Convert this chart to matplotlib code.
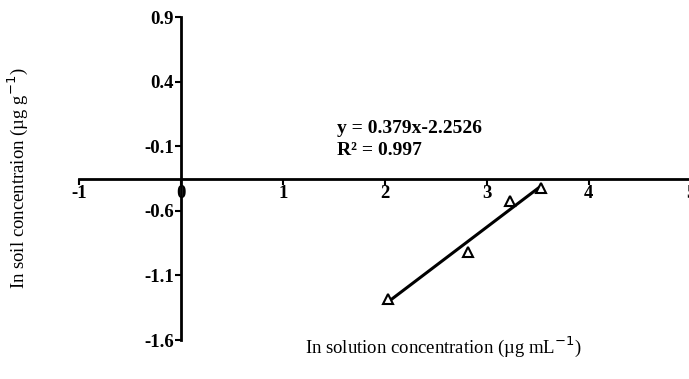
import matplotlib
matplotlib.use("Agg")
import matplotlib.pyplot as plt
import numpy as np

# data
ln_solution = [2.03, 2.81, 3.23, 3.53]
ln_soil = [-1.28, -0.92, -0.52, -0.42]
x_ticks = [-1, 0, 1, 2, 3, 4, 5]
y_ticks = [0.9, 0.4, -0.1, -0.6, -1.1, -1.6]

plt.rcParams['font.family'] = ['Liberation Serif', 'DejaVu Serif']

fig = plt.figure(figsize=(6.89, 3.79), dpi=100)
ax = fig.add_axes([0.1147, 0.1029, 0.888, 0.852])

# fitted line between the extreme points
coef = np.polyfit(ln_solution, ln_soil, 1)
xs = np.array([min(ln_solution), max(ln_solution)])
ax.plot(xs, np.polyval(coef, xs), color='black', lw=2.2, zorder=2)
ax.plot(ln_solution, ln_soil, linestyle='none', marker='^', markersize=7,
        markerfacecolor='white', markeredgecolor='black', markeredgewidth=1.5, zorder=3)

ax.set_xlim(-1, 5)
ax.set_ylim(-1.6, 0.9)

for s in ['top', 'right']:
    ax.spines[s].set_visible(False)
ax.spines['left'].set_position(('data', 0))
ax.spines['bottom'].set_position(('data', -0.35))
ax.spines['left'].set_linewidth(2)
ax.spines['bottom'].set_linewidth(2)
ax.spines['bottom'].set_clip_on(False)

ax.set_xticks(x_ticks)
ax.set_xticklabels([str(t) for t in x_ticks])
ax.set_yticks(y_ticks)
ax.set_yticklabels([f'{t:.1f}' for t in y_ticks])
ax.tick_params(axis='both', direction='out', length=4, width=1.5,
               labelsize=13.5, pad=1)
for lab in ax.get_xticklabels() + ax.get_yticklabels():
    lab.set_fontweight('bold')

ax.text(1.53, 0.005, 'y = 0.379x-2.2526', fontsize=14, fontweight='bold')
ax.text(1.53, -0.165, 'R² = 0.997', fontsize=14, fontweight='bold')

fig.text(0.643, 0.085, r'In solution concentration (µg mL$^{-1}$)',
         ha='center', va='center', fontsize=13.5)
fig.text(0.026, 0.53, r'In soil concentraion (µg g$^{-1}$)',
         ha='center', va='center', rotation=90, fontsize=13.5)

fig.savefig('out.png', dpi=100)
